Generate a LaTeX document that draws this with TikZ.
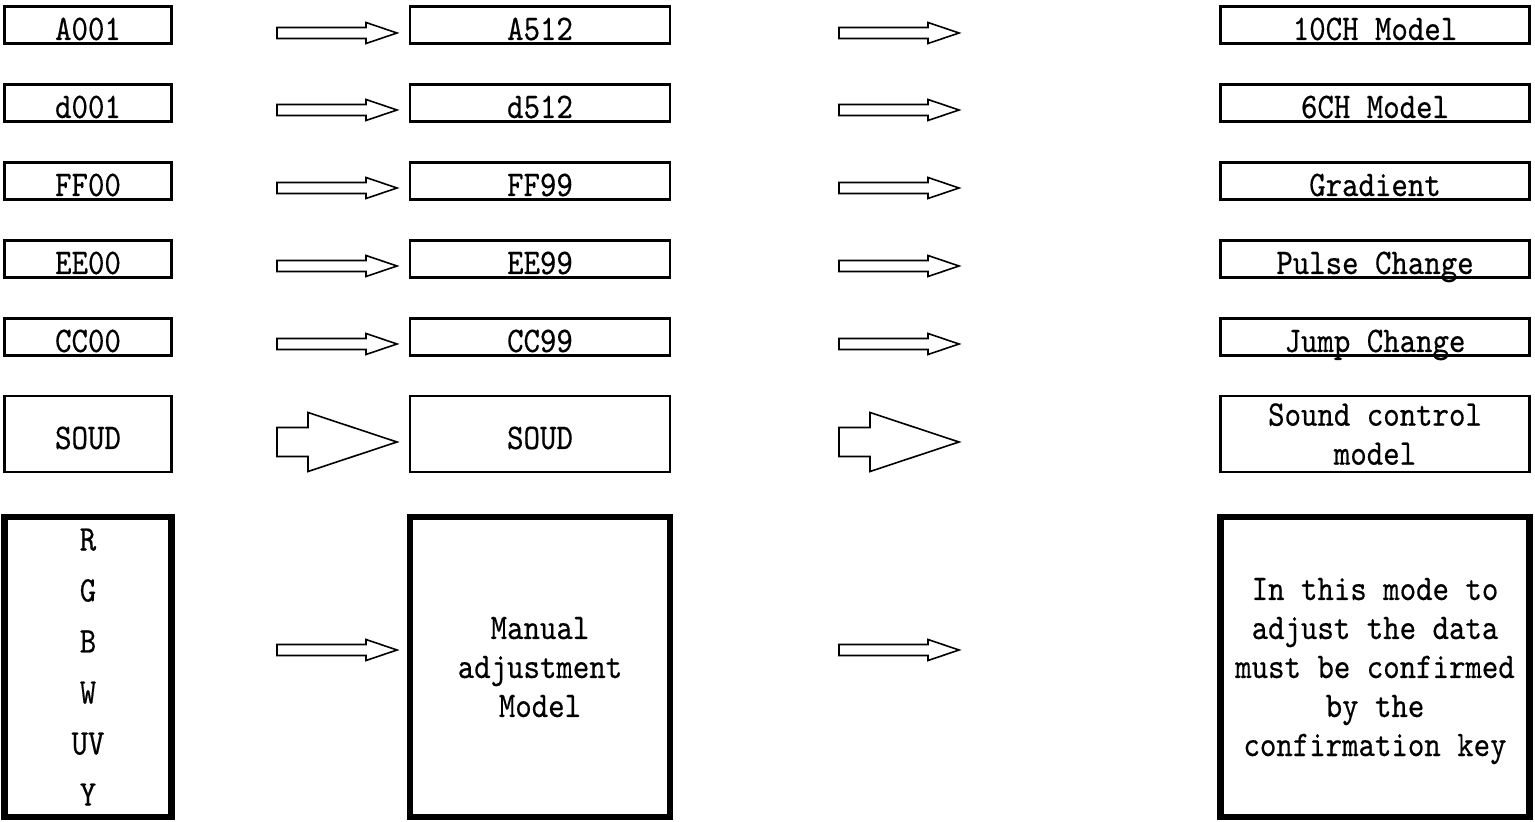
\documentclass[tikz,border=0pt]{standalone}
\usepackage{fontspec}
\newfontfamily\panelfont{lmmono10-regular.otf}[FakeStretch=0.87, FakeBold=0.4]
\begin{document}
\begin{tikzpicture}[x=0.5pt, y=-0.5pt,
    cell/.style={draw, line width=1.3pt, inner sep=0pt, align=center,
        minimum height=18.5pt, text height=15pt, text depth=0pt,
        font=\panelfont\fontsize{18pt}{19.5pt}\selectfont},
    tallcell/.style={cell, text height=, text depth=-6pt},
    thickcell/.style={tallcell, line width=3.3pt, minimum height=150pt},
    colA/.style={minimum width=83.5pt},
    colB/.style={minimum width=130pt},
    colC/.style={minimum width=154.5pt},
    arrowline/.style={draw, line width=0.8pt, fill=white},
    pics/blockarrow/.style args={#1/#2/#3}{code={
        \path[arrowline] (0,-#1) -- (120-#3,-#1) -- (120-#3,-#2) -- (120,0)
            -- (120-#3,#2) -- (120-#3,#1) -- (0,#1) -- cycle;
    }}]
    \useasboundingbox (0,0) rectangle (1535,822);
    % Left column
    \node[cell, colA] (a1) at (88,25) {A001};
    \node[cell, colA] (a2) at (88,103) {d001};
    \node[cell, colA] (a3) at (88,181) {FF00};
    \node[cell, colA] (a4) at (88,259) {EE00};
    \node[cell, colA] (a5) at (88,337) {CC00};
    \node[cell, colA, minimum height=38pt] (a6) at (88,434) {SOUD};
    \node[thickcell, colA, font=\panelfont\fontsize{18pt}{25.5pt}\selectfont] (a7) at (88,667)
        {R\\G\\B\\W\\UV\\Y};
    % Middle column
    \node[cell, colB] (b1) at (540,25) {A512};
    \node[cell, colB] (b2) at (540,103) {d512};
    \node[cell, colB] (b3) at (540,181) {FF99};
    \node[cell, colB] (b4) at (540,259) {EE99};
    \node[cell, colB] (b5) at (540,337) {CC99};
    \node[cell, colB, minimum height=38pt] (b6) at (540,434) {SOUD};
    \node[thickcell, colB] (b7) at (540,667) {Manual\\adjustment\\Model};
    % Right column
    \node[cell, colC] (c1) at (1375,25) {10CH Model};
    \node[cell, colC] (c2) at (1375,103) {6CH Model};
    \node[cell, colC] (c3) at (1375,181) {Gradient};
    \node[cell, colC] (c4) at (1375,259) {Pulse Change};
    \node[cell, colC] (c5) at (1375,337) {Jump Change};
    \node[tallcell, colC, minimum height=38pt] (c6) at (1375,434) {Sound control\\model};
    \node[thickcell, colC, text depth=-7pt] (c7) at (1375,667)
        {In this mode to\\adjust the data\\must be confirmed\\by the\\confirmation key};
    % Arrows
    \pic at (277,33) {blockarrow={5.5/10.5/31}};
    \pic at (277,110) {blockarrow={5.5/10.5/31}};
    \pic at (277,188) {blockarrow={5.5/10.5/31}};
    \pic at (277,266) {blockarrow={5.5/10.5/31}};
    \pic at (277,344) {blockarrow={5.5/10.5/31}};
    \pic at (277,442) {blockarrow={14.5/29.5/89}};
    \pic at (277,650) {blockarrow={5.5/10.5/31}};
    \pic at (839,33) {blockarrow={5.5/10.5/31}};
    \pic at (839,110) {blockarrow={5.5/10.5/31}};
    \pic at (839,188) {blockarrow={5.5/10.5/31}};
    \pic at (839,266) {blockarrow={5.5/10.5/31}};
    \pic at (839,344) {blockarrow={5.5/10.5/31}};
    \pic at (839,442) {blockarrow={14.5/29.5/89}};
    \pic at (839,650) {blockarrow={5.5/10.5/31}};
\end{tikzpicture}
\end{document}
